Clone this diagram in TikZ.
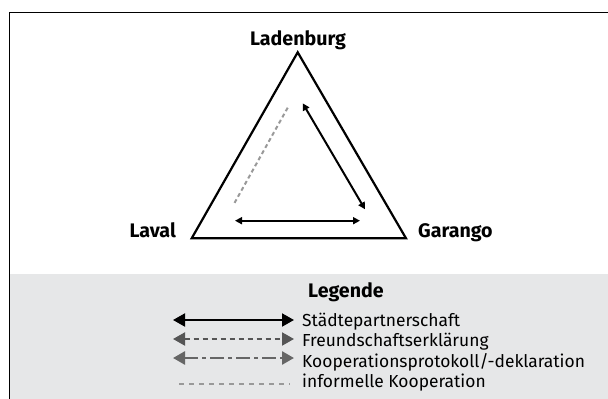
\documentclass[tikz,border=0pt]{standalone}
\usepackage{fontspec}
\setmainfont{Fira Sans}
\usetikzlibrary{arrows.meta}
\definecolor{legbg}{HTML}{E6E7E8}
\definecolor{darkg}{HTML}{555555}
\definecolor{midg}{HTML}{666666}
\definecolor{lightg}{HTML}{999999}
\begin{document}
\begin{tikzpicture}[x=1pt,y=-1pt,
  city/.style={font=\fontsize{19.6}{22}\selectfont\bfseries, inner sep=0pt},
  legtext/.style={font=\fontsize{17.4}{20}\selectfont, inner sep=0pt, anchor=base west},
  relarrow/.style={line width=2pt, {Triangle[length=7pt,width=7pt]}-{Triangle[length=7pt,width=7pt]}},
  bigtip/.style={line width=2pt, {Triangle[length=12pt,width=13pt]}-{Triangle[length=12pt,width=13pt]}},
  partner/.style={bigtip, black},
  friend/.style={bigtip, darkg, dash pattern=on 5pt off 4pt},
  coop/.style={bigtip, midg, line width=2.6pt, dash pattern=on 14pt off 4pt on 4pt off 4pt},
  informal/.style={lightg, line width=2pt, dash pattern=on 5pt off 5pt},
]
\useasboundingbox (0,0) rectangle (608,399);
% background of legend
\fill[legbg] (10.25,274) rectangle (608,399);
% frame (left and top edge visible)
\draw[line width=1.5pt] (9.5,399) -- (9.5,12.5) -- (608,12.5);

% triangle
\coordinate (L) at (297.7,52.3);
\coordinate (V) at (191.7,238.3);
\coordinate (G) at (406,238.3);
\draw[line width=2.2pt, line join=miter] (L) -- (V) -- (G) -- cycle;

\node[city, anchor=base] (ladenburg) at (298,45) {Ladenburg};
\node[city, anchor=base east] (laval) at (176,237) {Laval};
\node[city, anchor=base west] (garango) at (418,237) {Garango};

% relations
\coordinate (r1) at (302.7,103.3);
\coordinate (r2) at (365,209.3);
\coordinate (b1) at (235,220.7);
\coordinate (b2) at (360,220.7);
\coordinate (d1) at (287.7,107.7);
\coordinate (d2) at (234.3,203.3);
\draw[relarrow] (r1) -- (r2);
\draw[relarrow] (b1) -- (b2);
\draw[lightg, line width=2pt, dash pattern=on 4pt off 3pt] (d1) -- (d2);

% legend
\node[city, anchor=base west] (legende) at (308,297.7) {Legende};
\coordinate (a1l) at (173,320); \coordinate (a1r) at (294,320);
\coordinate (a2l) at (173,339); \coordinate (a2r) at (294,339);
\coordinate (a3l) at (173,358); \coordinate (a3r) at (294,358);
\coordinate (a4l) at (179,384); \coordinate (a4r) at (290,384);
\draw[partner] (a1l) -- (a1r);
\draw[friend] (a2l) -- (a2r);
\draw[coop] (a3l) -- (a3r);
\draw[informal] (a4l) -- (a4r);
\node[legtext] (t1) at (302,326) {Städtepartnerschaft};
\node[legtext] (t2) at (302,346.5) {Freundschaftserklärung};
\node[legtext] (t3) at (302,367) {Kooperationsprotokoll/-deklaration};
\node[legtext] (t4) at (302,387) {informelle Kooperation};
\end{tikzpicture}
\end{document}
